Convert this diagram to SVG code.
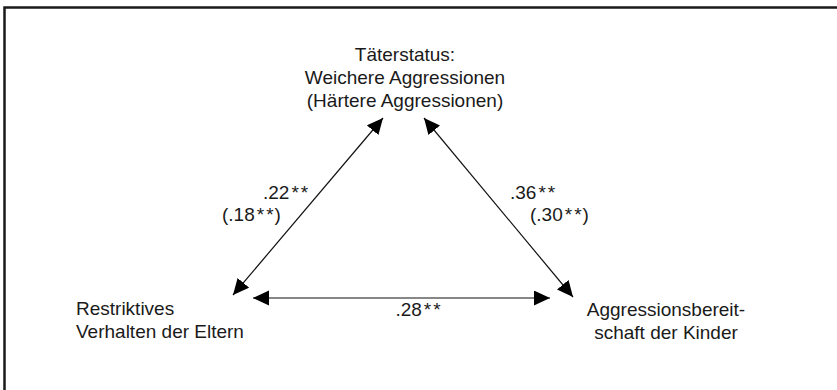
<svg xmlns="http://www.w3.org/2000/svg" width="837" height="390" viewBox="0 0 837 390">
<style>
text{font-family:"Liberation Sans",Arial,sans-serif;font-size:19px;fill:#1a1a1a}
.c{text-anchor:middle}
.edge{stroke:#111;stroke-width:1.2;fill:none;marker-start:url(#ah);marker-end:url(#ah)}
</style>
<defs>
<marker id="ah" markerUnits="userSpaceOnUse" markerWidth="17" markerHeight="16" refX="16" refY="7.5" orient="auto-start-reverse" viewBox="0 0 17 16">
<path d="M0,0 L16,7.5 L0,15 z" fill="#000"/>
</marker>
</defs>
<rect width="837" height="390" fill="#fff"/>
<path d="M4.5,390 V7.5 H837" fill="none" stroke="#1a1a1a" stroke-width="2.5"/>
<g id="connectors">
<line class="edge" x1="233" y1="295" x2="383" y2="118"/>
<line class="edge" x1="424" y1="118" x2="573" y2="297"/>
<line class="edge" x1="253" y1="298" x2="550" y2="298"/>
</g>
<g id="node-taeter">
<text class="c" x="405" y="61">Täterstatus:</text>
<text class="c" x="405" y="84">Weichere Aggressionen</text>
<text class="c" x="405" y="107">(Härtere Aggressionen)</text>
</g>
<g id="node-eltern">
<text x="76" y="315">Restriktives</text>
<text x="76" y="338">Verhalten der Eltern</text>
</g>
<g id="node-kinder">
<text class="c" x="666" y="316">Aggressionsbereit-</text>
<text class="c" x="666" y="339">schaft der Kinder</text>
</g>
<g id="labels">
<text x="263" y="199">.22<tspan dx="2">*</tspan><tspan dx="2">*</tspan></text>
<text x="222" y="221">(.18<tspan dx="2">*</tspan><tspan dx="2">*</tspan><tspan dx="1">)</tspan></text>
<text x="510" y="199">.36<tspan dx="2">*</tspan><tspan dx="2">*</tspan></text>
<text x="530" y="221">(.30<tspan dx="2">*</tspan><tspan dx="2">*</tspan><tspan dx="1">)</tspan></text>
<text class="c" x="418" y="316">.28<tspan dx="2">*</tspan><tspan dx="2">*</tspan></text>
</g>
</svg>
